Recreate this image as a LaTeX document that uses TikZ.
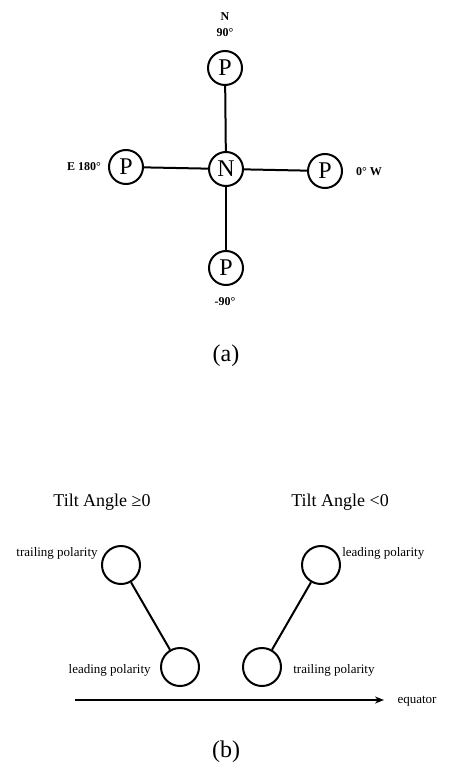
\documentclass[tikz,border=0pt]{standalone}
\usepackage{fontspec}
\setmainfont{Liberation Serif}
\usetikzlibrary{arrows.meta}
\begin{document}
\begin{tikzpicture}[x=1pt,y=-1pt,line width=2pt,
  pole/.style={draw,circle,minimum size=34pt,inner sep=0pt,font=\fontsize{24}{24}\selectfont},
  spot/.style={draw,circle,minimum size=38pt,inner sep=0pt},
  compass/.style={font=\fontsize{12}{16}\selectfont\bfseries},
  small/.style={font=\fontsize{13}{14}\selectfont},
  title/.style={font=\fontsize{18}{19}\selectfont},
  caption/.style={font=\fontsize{24}{25}\selectfont}]
\useasboundingbox (0,0) rectangle (468,781);
% (a)
\node[pole] (N) at (226,169) {N};
\node[pole] (Pn) at (225,68) {P};
\node[pole] (Pe) at (126,167) {P};
\node[pole] (Pw) at (325,171) {P};
\node[pole] (Ps) at (226,268) {P};
\draw (Pn) -- (N);
\draw (Pe) -- (N);
\draw (N) -- (Pw);
\draw (N) -- (Ps);
\node[compass,align=center] (ln) at (225,25) {N\\90°};
\node[compass] (le) at (84,167) {E 180°};
\node[compass] (lw) at (369,172) {0° W};
\node[compass] (ls) at (225,302) {-90°};
\node[caption] (ca) at (226,356) {(a)};
% (b)
\node[title] (tp) at (102,502) {Tilt Angle ≥0};
\node[title] (tn) at (340,502) {Tilt Angle <0};
\node[spot] (A1) at (121,565) {};
\node[spot] (A2) at (180,667) {};
\node[spot] (B1) at (321,565) {};
\node[spot] (B2) at (262,667) {};
\draw (A1) -- (A2);
\draw (B1) -- (B2);
\node[small,anchor=east] (la1) at (102,553) {trailing polarity};
\node[small,anchor=east] (la2) at (155,670) {leading polarity};
\node[small,anchor=west] (lb1) at (338,553) {leading polarity};
\node[small,anchor=west] (lb2) at (289,670) {trailing polarity};
\coordinate (e0) at (75,700);
\coordinate (e1) at (384,700);
\draw[-{Stealth[length=9pt,width=7pt]}] (e0) -- (e1);
\node[small] (eq) at (417,701) {equator};
\node[caption] (cb) at (226,752) {(b)};
\end{tikzpicture}
\end{document}
